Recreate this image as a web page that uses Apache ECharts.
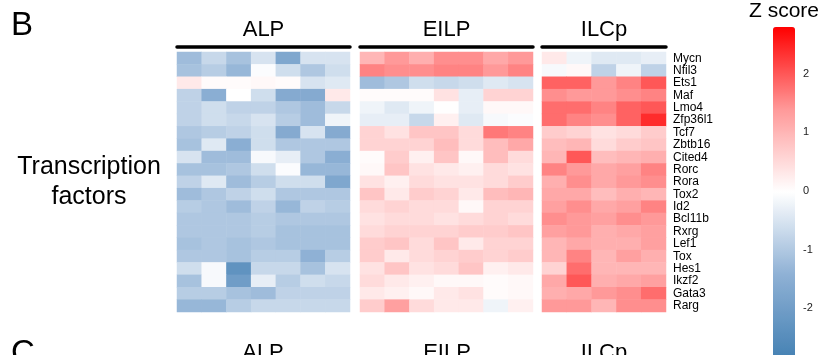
<!DOCTYPE html>
<html>
<head>
<meta charset="utf-8">
<script src="https://cdn.jsdelivr.net/npm/echarts@6/dist/echarts.min.js"></script>
<style>
  html, body { margin: 0; padding: 0; background: #fff; }
  #chart { width: 825px; height: 355px; }
</style>
</head>
<body>
<div id="chart"></div>
<script>
const genes = ["Mycn", "Nfil3", "Ets1", "Maf", "Lmo4", "Zfp36l1", "Tcf7", "Zbtb16", "Cited4", "Rorc",
  "Rora", "Tox2", "Id2", "Bcl11b", "Rxrg", "Lef1", "Tox", "Hes1", "Ikzf2", "Gata3", "Rarg"];
const groups = ["ALP", "EILP", "ILCp"];
const alpSamples = ["ALP1", "ALP2", "ALP3", "ALP4", "ALP5", "ALP6", "ALP7"];
const eilpSamples = ["EILP1", "EILP2", "EILP3", "EILP4", "EILP5", "EILP6", "EILP7"];
const ilcpSamples = ["ILCp1", "ILCp2", "ILCp3", "ILCp4", "ILCp5"];
const zTicks = [-2, -1, 0, 1, 2];

// z scores, one row per gene
const alpZ = [
  [-1.2, -0.7, -1.1, -0.5, -1.7, -0.5, -0.5],
  [-1.1, -0.9, -1.3, -0.05, -0.6, -1.0, -0.6],
  [0.3, 0.05, 0.05, 0.1, 0.05, -0.5, -0.4],
  [-0.8, -1.5, 0.0, -0.6, -1.6, -1.6, 0.3],
  [-0.8, -0.6, -0.8, -0.8, -1.0, -1.2, -0.7],
  [-0.8, -0.6, -0.7, -0.5, -0.9, -1.2, -0.2],
  [-1.0, -0.9, -0.8, -0.6, -1.6, -0.5, -1.6],
  [-1.1, -0.4, -1.5, -0.6, -1.0, -1.0, -1.0],
  [-0.5, -1.2, -1.2, -0.1, -0.3, -1.0, -1.5],
  [-1.1, -1.1, -1.0, -0.6, -0.05, -1.3, -1.3],
  [-0.8, -0.4, -1.2, -0.9, -0.6, -0.6, -1.7],
  [-1.2, -1.0, -0.8, -0.6, -1.0, -1.0, -1.0],
  [-0.9, -1.0, -1.2, -0.8, -1.3, -0.8, -0.9],
  [-1.0, -1.0, -1.0, -0.9, -1.0, -1.0, -1.0],
  [-1.0, -1.0, -1.0, -0.9, -1.1, -1.1, -1.1],
  [-1.1, -1.0, -1.1, -1.0, -1.1, -1.1, -1.1],
  [-1.0, -1.0, -1.1, -0.9, -0.9, -1.4, -0.9],
  [-0.6, -0.1, -2.3, -0.7, -0.7, -1.1, -0.5],
  [-1.1, -0.1, -2.0, -0.3, -0.9, -0.6, -0.7],
  [-0.9, -0.9, -1.1, -1.2, -0.8, -0.8, -0.8],
  [-1.3, -1.3, -0.9, -0.7, -0.7, -0.7, -0.7]
];
const eilpZ = [
  [1.0, 1.4, 1.1, 1.5, 1.5, 1.2, 1.4],
  [1.6, 1.5, 1.5, 1.6, 1.6, 1.4, 1.6],
  [-1.2, -1.0, -0.6, -0.7, -0.6, -0.4, -0.5],
  [0.05, 0.05, 0.05, 0.4, -0.3, 0.6, 0.6],
  [-0.2, -0.4, -0.2, 0.02, -0.3, 0.1, 0.1],
  [-0.3, -0.3, -0.7, 0.2, -0.4, -0.1, -0.05],
  [0.6, 0.4, 0.8, 0.8, 0.5, 1.7, 1.6],
  [0.6, 0.6, 0.6, 0.9, 0.5, 0.9, 1.2],
  [0.05, 0.7, 0.2, 0.8, 0.1, 0.9, 0.5],
  [0.1, 0.8, 0.4, 0.3, 0.2, 0.5, 0.4],
  [0.4, 0.2, 0.5, 0.4, 0.4, 0.5, 0.7],
  [0.8, 0.3, 0.7, 0.6, 0.3, 0.9, 1.0],
  [0.5, 0.6, 0.5, 0.5, 0.1, 0.6, 0.6],
  [0.4, 0.5, 0.5, 0.4, 0.5, 0.6, 0.5],
  [0.5, 0.6, 0.6, 0.6, 0.7, 0.7, 0.8],
  [0.7, 0.8, 0.5, 0.8, 0.3, 0.6, 0.6],
  [0.7, 0.3, 0.5, 0.6, 0.7, 0.6, 0.7],
  [0.4, 0.8, 0.4, 0.5, 0.8, 0.2, 0.3],
  [0.5, 0.3, 0.2, 0.1, 0.1, 0.05, 0.1],
  [0.3, 0.2, 0.1, 0.3, 0.4, 0.05, 0.1],
  [0.7, 1.3, 0.5, 0.3, 0.3, -0.2, 0.2]
];
const ilcpZ = [
  [0.3, -0.2, -0.4, -0.4, -0.3],
  [-0.1, 0.1, -0.8, -0.2, -0.8],
  [1.9, 1.9, 1.4, 1.6, 2.0],
  [1.5, 1.4, 1.4, 1.5, 1.6],
  [1.8, 1.8, 1.6, 1.9, 2.0],
  [1.8, 1.6, 1.5, 1.9, 2.4],
  [0.7, 0.6, 0.4, 0.5, 0.7],
  [0.9, 1.0, 0.5, 0.7, 0.8],
  [1.0, 2.0, 0.9, 1.0, 1.1],
  [1.6, 1.4, 1.2, 1.3, 1.6],
  [1.1, 1.5, 1.2, 1.4, 1.5],
  [1.2, 1.2, 0.9, 1.1, 1.0],
  [1.3, 1.5, 1.2, 1.3, 1.6],
  [1.5, 1.4, 1.3, 1.5, 1.4],
  [1.3, 1.4, 1.1, 1.2, 1.3],
  [1.0, 1.2, 1.1, 1.1, 1.3],
  [1.0, 1.6, 1.0, 1.3, 1.1],
  [0.6, 1.8, 1.0, 1.0, 1.0],
  [1.2, 2.0, 1.1, 1.2, 1.3],
  [1.1, 1.2, 1.4, 1.5, 1.8],
  [1.4, 1.4, 1.0, 1.5, 1.5]
];

const font = "Liberation Sans, Arial, sans-serif";
const toCells = (rows) => {
  const out = [];
  rows.forEach((row, i) => row.forEach((v, j) => out.push([j, i, v])));
  return out;
};

const samples = [alpSamples, eilpSamples, ilcpSamples];
const matrices = [alpZ, eilpZ, ilcpZ];
const grids = [
  { left: 177, top: 52, width: 173, height: 260 },
  { left: 360, top: 52, width: 173, height: 260 },
  { left: 542, top: 52, width: 124, height: 260 },
  { left: 773, top: 27, width: 22, height: 330 }
];

const xAxes = samples.map((s, k) => ({
  type: "category",
  gridIndex: k,
  data: s,
  position: "top",
  offset: 5,
  name: groups[k],
  nameLocation: "middle",
  nameGap: 6,
  nameTextStyle: { fontSize: 22, color: "#000", fontFamily: font, verticalAlign: "bottom" },
  axisLine: { show: true, lineStyle: { color: "#000", width: 3.5 } },
  axisTick: { show: false },
  axisLabel: { show: false },
  splitLine: { show: false }
}));
xAxes.push({ type: "value", gridIndex: 3, show: false });

const yAxes = samples.map((s, k) => ({
  type: "category",
  gridIndex: k,
  data: genes,
  inverse: true,
  position: "right",
  axisLine: { show: false },
  axisTick: { show: false },
  axisLabel: { show: k === 2, interval: 0, fontSize: 12, color: "#000", fontFamily: font, margin: 7 },
  splitLine: { show: false }
}));
yAxes.push({
  type: "value",
  gridIndex: 3,
  min: -2.8,
  max: 2.8,
  position: "right",
  axisLine: { show: false },
  axisTick: { show: false },
  splitLine: { show: false },
  axisLabel: { customValues: zTicks, fontSize: 11, color: "#222", fontFamily: font, margin: 8 }
});

const chart = echarts.init(document.getElementById("chart"));
chart.setOption({
  backgroundColor: "#fff",
  animation: false,
  grid: grids,
  xAxis: xAxes,
  yAxis: yAxes,
  visualMap: {
    type: "continuous",
    min: -2.8,
    max: 2.8,
    seriesIndex: [0, 1, 2],
    calculable: false,
    left: 773,
    top: 27,
    itemWidth: 22,
    itemHeight: 330,
    padding: 0,
    inRange: { color: ["#4682B4", "#8fb1d5", "#ffffff", "#ff9999", "#ff0000"] }
  },
  series: matrices.map((m, k) => ({
    type: "heatmap",
    xAxisIndex: k,
    yAxisIndex: k,
    data: toCells(m),
    itemStyle: { borderWidth: 0 }
  })),
  graphic: [
    { type: "text", left: 11, top: 9, style: { text: "B", font: "33px " + font, fill: "#000" } },
    { type: "text", x: 89, y: 152, style: { text: "Transcription\nfactors", font: "25px " + font, fill: "#000", align: "center", lineHeight: 30 } },
    { type: "text", x: 784, y: 1, style: { text: "Z score", font: "21px " + font, fill: "#000", align: "center" } },
    { type: "text", x: 11, y: 337, style: { text: "C", font: "33px " + font, fill: "#000" } },
    { type: "text", x: 263, y: 342, style: { text: "ALP", font: "22px " + font, fill: "#000", align: "center" } },
    { type: "text", x: 447, y: 342, style: { text: "EILP", font: "22px " + font, fill: "#000", align: "center" } },
    { type: "text", x: 604, y: 342, style: { text: "ILCp", font: "22px " + font, fill: "#000", align: "center" } }
  ]
});
</script>
</body>
</html>
